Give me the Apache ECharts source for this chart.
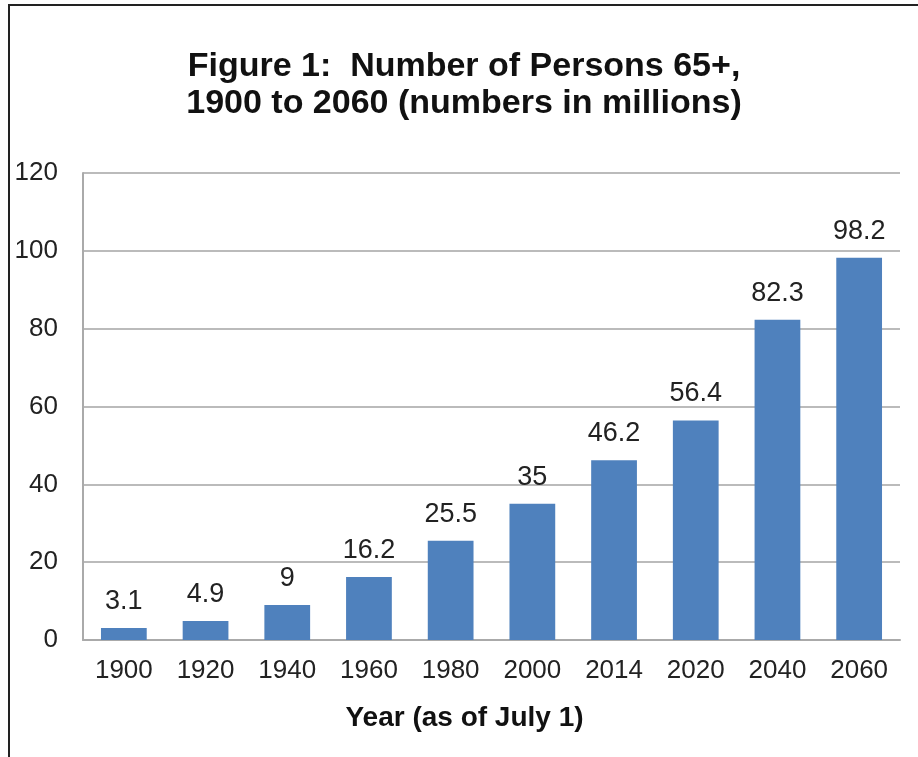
<!DOCTYPE html>
<html><head><meta charset="utf-8">
<script src="https://cdn.jsdelivr.net/npm/echarts@6/dist/echarts.min.js"></script>
<style>
html,body{margin:0;padding:0;background:#fff;}
#frame{position:absolute;left:8px;top:4px;width:910px;height:753px;border-left:2px solid #222;border-top:2px solid #222;}
#c{position:absolute;left:0;top:0;width:918px;height:757px;}
</style></head>
<body>
<div id="frame"></div>
<div id="c"></div>
<script>
const categories = ['1900','1920','1940','1960','1980','2000','2014','2020','2040','2060'];
const values = [3.1, 4.9, 9, 16.2, 25.5, 35, 46.2, 56.4, 82.3, 98.2];
const titleLines = ['Figure 1:  Number of Persons 65+,', '1900 to 2060 (numbers in millions)'];
const xAxisTitle = 'Year (as of July 1)';

const chart = echarts.init(document.getElementById('c'));
chart.setOption({
  animation: false,
  backgroundColor: 'transparent',
  title: {
    text: titleLines.join('\n'),
    left: 459, textAlign: 'center', top: 43,
    textStyle: {fontFamily: 'Liberation Sans, Arial', fontWeight: 'bold', fontSize: 34, lineHeight: 37, color: '#111'}
  },
  grid: {left: 83, right: 18, top: 173, bottom: 117, containLabel: false},
  xAxis: {
    type: 'category', data: categories,
    name: xAxisTitle, nameLocation: 'middle', nameGap: 64,
    nameTextStyle: {fontFamily: 'Liberation Sans, Arial', fontWeight: 'bold', fontSize: 28, color: '#111', padding: [0, 54, 0, 0]},
    axisLine: {lineStyle: {color: '#aaa', width: 2}},
    axisTick: {show: false},
    axisLabel: {fontFamily: 'Liberation Sans, Arial', fontSize: 26, color: '#222', margin: 18}
  },
  yAxis: {
    type: 'value', min: 0, max: 120, interval: 20,
    axisLine: {show: true, lineStyle: {color: '#aaa', width: 2}},
    axisTick: {show: false},
    splitLine: {lineStyle: {color: '#bbb', width: 2}},
    axisLabel: {fontFamily: 'Liberation Sans, Arial', fontSize: 26, color: '#222', margin: 25}
  },
  series: [{
    type: 'bar', data: values, barWidth: '56%',
    itemStyle: {color: '#4F81BD'},
    label: {show: true, position: 'top', distance: 13, fontFamily: 'Liberation Sans, Arial', fontSize: 27, color: '#222'}
  }]
});
</script>
</body></html>
